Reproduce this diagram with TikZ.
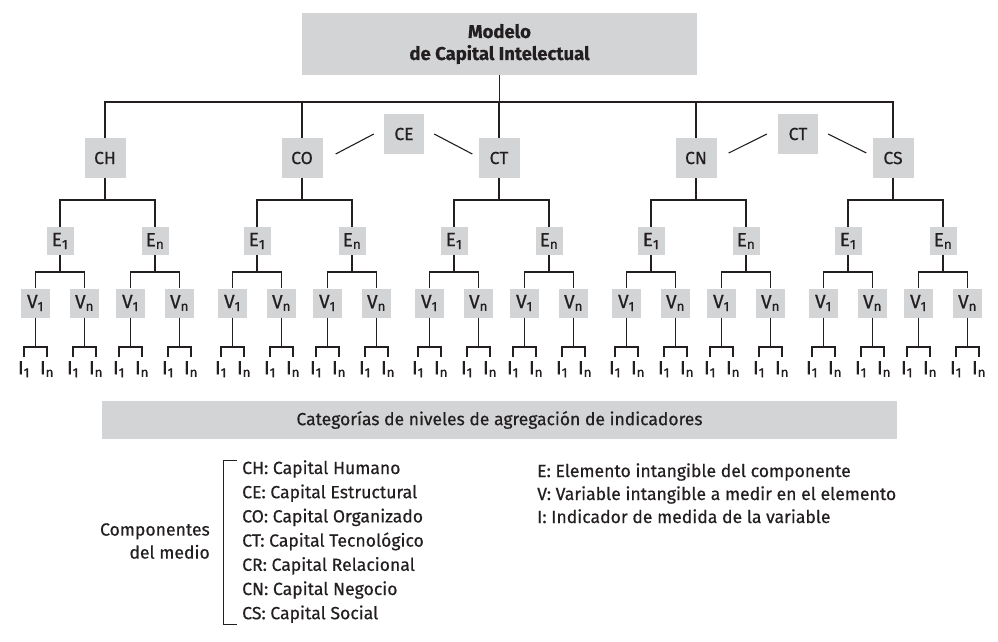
\documentclass[tikz,border=0pt]{standalone}
\usepackage{fontspec}
\setmainfont{Fira Sans}[FakeBold=0.5]
\usetikzlibrary{positioning}
\definecolor{boxgray}{RGB}{211,212,214}
\definecolor{ink}{RGB}{35,31,32}

\tikzset{
  box/.style={fill=boxgray, inner sep=0pt, text=ink},
  topbox/.style={box, minimum width=395pt, minimum height=62pt, align=center,
    font=\bfseries\fontsize{18.5}{22}\selectfont},
  comp/.style={box, minimum width=41pt, minimum height=40pt, font=\fontsize{17.5}{20}\selectfont},
  elem/.style={box, minimum width=27pt, minimum height=28pt, font=\fontsize{19}{20}\selectfont},
  var/.style={box, minimum width=29pt, minimum height=29pt, font=\fontsize{19}{20}\selectfont},
  ind/.style={inner xsep=0pt, inner ysep=4pt, text=ink, anchor=north, font=\fontsize{19}{20}\selectfont},
  link/.style={draw=ink, line width=1.1pt},
  legend/.style={inner sep=0pt, text=ink, font=\fontsize{17.6}{23}\selectfont},
}

\begin{document}
\begin{tikzpicture}[x=1pt,y=-1pt]
  \useasboundingbox (0,0) rectangle (998,641);

  % model and its five components
  \node[topbox] (model) at (499.5,44) {Modelo\\de Capital Intelectual};
  \coordinate (bus) at (499.5,102);
  \draw[link] (model.south) -- (bus);

  \foreach \lab [count=\i from 0] in {CH,CO,CT,CN,CS} {
    \pgfmathsetmacro\cx{105+197*\i}
    \node[comp] (c\i) at (\cx,158) {\lab};
    \coordinate (cb\i) at (\cx,200);
    \draw[link] (c\i.north) -- (c\i.north |- bus);
    \draw[link] (c\i.south) -- (cb\i);
    \foreach \e/\dx in {1/-45,n/50} {
      \pgfmathsetmacro\ex{\cx+\dx}
      \node[elem] (e\i-\e) at (\ex,241) {E\textsubscript{\e}};
      \coordinate (eb\i-\e) at (\ex,272);
      \draw[link] (e\i-\e.south) -- (eb\i-\e);
      \foreach \v/\dv in {1/-24.5,n/24.5} {
        \pgfmathsetmacro\vx{\ex+\dv}
        \node[var] (v\i-\e-\v) at (\vx,303) {V\textsubscript{\v}};
        \coordinate (vb\i-\e-\v) at (\vx,347);
        \draw[link] (v\i-\e-\v.south) -- (vb\i-\e-\v);
        % indicators
        \node[ind] (i\i-\e-\v-1) at (\vx-11.5,357) {I\textsubscript{1}};
        \node[ind] (i\i-\e-\v-n) at (\vx+11.5,357) {I\textsubscript{n}};
        \draw[link] (i\i-\e-\v-1.north) |- (vb\i-\e-\v) -| (i\i-\e-\v-n.north);
      }
      \draw[link] (v\i-\e-1.north) |- (eb\i-\e) -| (v\i-\e-n.north);
    }
    \draw[link] (e\i-1.north) |- (cb\i) -| (e\i-n.north);
  }
  \draw[link] (c0.north) |- (bus) -| (c4.north);

  % shared components
  \node[comp, minimum width=40pt] (ce) at (404,134) {CE};
  \node[comp, minimum width=40pt] (ct) at (798,134) {CT};
  \draw[link] ([xshift=13pt,yshift=4pt]c1.east) -- ([xshift=-10pt]ce.west);
  \draw[link] ([xshift=10pt]ce.east) -- ([xshift=-6pt,yshift=4pt]c2.west);
  \draw[link] ([xshift=12pt,yshift=5pt]c3.east) -- ([xshift=-11pt]ct.west);
  \draw[link] ([xshift=10pt]ct.east) -- ([xshift=-6pt,yshift=5pt]c4.west);

  \node[box, minimum width=795pt, minimum height=38pt, font=\fontsize{17.5}{20}\selectfont]
    (agg) at (499.5,420) {Categorías de niveles de agregación de indicadores};

  % legend
  \node[legend, align=right, anchor=east] (medio) at (210,541) {Componentes\\del medio};
  \foreach \t [count=\k from 0] in {CH: Capital Humano,CE: Capital Estructural,
      CO: Capital Organizado,CT: Capital Tecnológico,CR: Capital Relacional,
      CN: Capital Negocio,CS: Capital Social}
    \node[legend, anchor=base west] (cl\k) at (242,474+24.2*\k) {\t};
  \coordinate (brt) at (237,460);
  \coordinate (brb) at (237,624);
  \draw[draw=ink, line width=1pt] (brt) -- ++(-14,0) |- (brb);

  \foreach \t [count=\k from 0] in {E: Elemento intangible del componente,
      V: Variable intangible a medir en el elemento,I: Indicador de medida de la variable}
    \node[legend, anchor=base west] (dl\k) at (537,477+23*\k) {\t};
\end{tikzpicture}
\end{document}
